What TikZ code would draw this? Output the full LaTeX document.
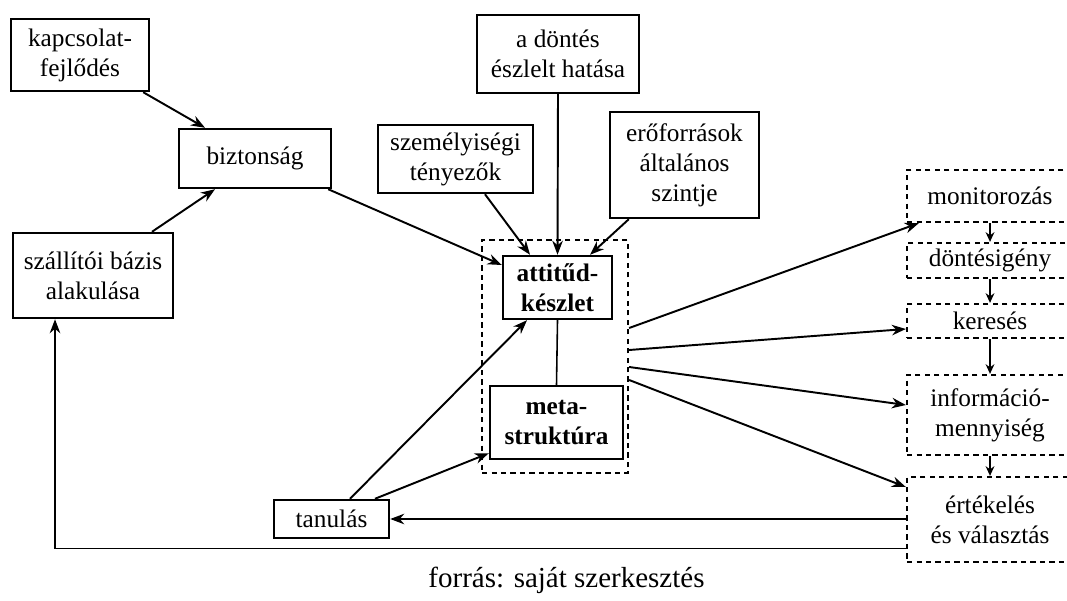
\documentclass[tikz,border=0pt]{standalone}
\usepackage{fontspec}
\setmainfont{Liberation Serif}
\usepackage{tikz}
\usetikzlibrary{arrows.meta}

\begin{document}
\begin{tikzpicture}[x=0.02cm, y=-0.02cm, font=\fontsize{14.4}{17}\selectfont, >={Stealth[length=8pt, width=6pt]},
    solidbox/.style={draw, line width=1.4pt, align=center, inner sep=0pt},
    dashbox/.style={draw, line width=1.3pt, dash pattern=on 3pt off 2.4pt, align=center, inner sep=0pt},
    link/.style={->, line width=1.1pt},
    steplink/.style={-{Stealth[length=5.5pt, width=5pt]}, line width=1.1pt}]
    \useasboundingbox (0,0) rectangle (1067,601);
    % left side
    \node[solidbox, minimum width=2.76cm, minimum height=1.44cm] (kapcs) at (80,55) {kapcsolat-\\fejlődés};
    \node[solidbox, minimum width=3.04cm, minimum height=1.18cm] (bizt) at (255,158.5) {biztonság};
    \node[solidbox, minimum width=3.2cm, minimum height=1.7cm] (szall) at (93,275.5) {szállítói bázis\\alakulása};
    \node[solidbox, minimum width=2.3cm, minimum height=0.76cm] (tanul) at (331.5,519) {tanulás};
    % upper factors
    \node[solidbox, minimum width=3.24cm, minimum height=1.56cm] (dontes) at (558,54) {a döntés\\észlelt hatása};
    \node[solidbox, minimum width=3.1cm, minimum height=1.36cm] (szemely) at (455.5,159) {személyiségi\\tényezők};
    \node[solidbox, minimum width=2.98cm, minimum height=2.12cm] (eroforr) at (684.5,165) {erőforrások\\általános\\szintje};
    % centre
    \node[dashbox, minimum width=2.92cm, minimum height=4.66cm] (grp) at (555,356.5) {};
    \node[solidbox, font=\fontsize{14.4}{17}\selectfont\bfseries, minimum width=2.18cm, minimum height=1.26cm] (attit) at (557.5,287.5) {attitűd-\\készlet};
    \node[solidbox, font=\fontsize{14.4}{17}\selectfont\bfseries, minimum width=2.66cm, minimum height=1.46cm] (meta) at (556.5,422.5) {meta-\\struktúra};
    % decision steps
    \node[dashbox, minimum width=3.32cm, minimum height=1.04cm] (monit) at (990,196) {monitorozás};
    \node[dashbox, minimum width=3.32cm, minimum height=0.7cm] (dontig) at (990,260.5) {döntésigény};
    \node[dashbox, minimum width=3.32cm, minimum height=0.68cm] (keres) at (990,321) {keresés};
    \node[dashbox, minimum width=3.32cm, minimum height=1.6cm] (inform) at (990,415) {információ-\\mennyiség};
    \node[dashbox, minimum width=3.32cm, minimum height=1.7cm] (ertek) at (990,519.5) {értékelés\\és választás};
    \node[font=\fontsize{16.5}{19}\selectfont] (forras) at (566.5,580) {forrás: saját szerkesztés};

    \draw[link] ([xshift=-0.14cm]kapcs.south east) -- ([xshift=-1.0cm]bizt.north);
    \draw[link] ([xshift=1.18cm]szall.north) -- ([xshift=-0.8cm]bizt.south);
    \draw[link] ([xshift=-0.08cm]bizt.south east) -- ([yshift=0.45cm]attit.west);
    \draw[link] ([xshift=0.59cm]szemely.south) -- ([xshift=-0.55cm]attit.north);
    \draw[link] (dontes.south) -- (attit.north);
    \draw[link] ([xshift=0.4cm]eroforr.south west) -- ([xshift=0.65cm]attit.north);
    \draw[line width=0.9pt] (attit.south) -- (meta.north);
    \draw[link] ([xshift=0.37cm]tanul.north) -- ([xshift=-0.61cm]attit.south);
    \draw[link] ([xshift=0.87cm]tanul.north) -- ([yshift=0.14cm]meta.south west);

    \draw[link] ([yshift=0.57cm]grp.east) -- ([xshift=0.26cm]monit.south west);
    \draw[link] ([yshift=0.13cm]grp.east) -- ([yshift=-0.16cm]keres.west);
    \draw[link] ([yshift=-0.21cm]grp.east) -- ([yshift=0.2cm]inform.west);
    \draw[link] ([yshift=-0.47cm]grp.east) -- ([yshift=0.65cm]ertek.west);

    \draw[steplink] (monit) -- (dontig);
    \draw[steplink] (dontig) -- (keres);
    \draw[steplink] (keres) -- (inform);
    \draw[steplink] (inform) -- (ertek);

    \draw[link] (tanul.east -| ertek.west) -- (tanul.east);
    \draw[link] ([yshift=-0.58cm]ertek.west) -| ([xshift=-0.76cm]szall.south);
\end{tikzpicture}
\end{document}
